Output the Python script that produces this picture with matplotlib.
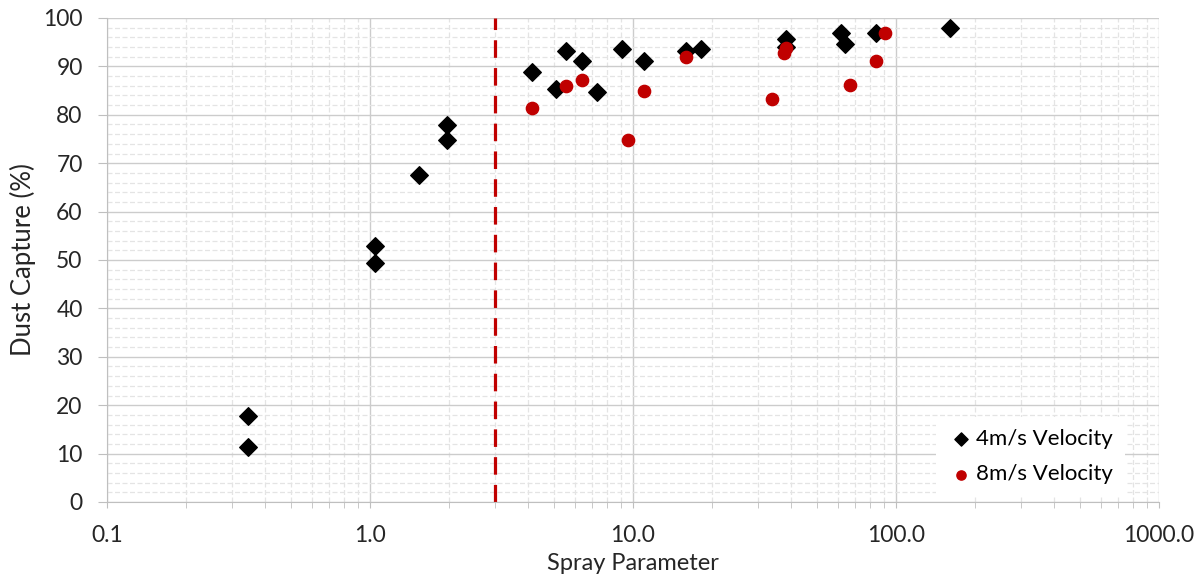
import numpy as np
import matplotlib.pyplot as plt
from matplotlib.ticker import FixedLocator, LogLocator, MultipleLocator, FuncFormatter

plt.rcParams['font.family'] = ['Lato', 'DejaVu Sans']

# 4 m/s velocity series
spray_4 = [0.344, 0.344, 1.045, 1.045, 1.53, 1.96, 1.96, 4.13, 5.09, 5.56, 6.4, 7.3,
           9.08, 11.0, 15.9, 18.1, 38.2, 38.2, 61.8, 64.0, 84.0, 160.0]
capture_4 = [17.8, 11.4, 52.9, 49.4, 67.6, 77.9, 74.8, 88.8, 85.3, 93.2, 91.1, 84.7,
             93.6, 91.1, 93.2, 93.6, 95.6, 94.0, 96.9, 94.6, 96.9, 98.0]

# 8 m/s velocity series
spray_8 = [4.13, 5.56, 6.4, 9.57, 11.0, 15.9, 33.7, 37.5, 38.2, 66.8, 84.0, 90.8]
capture_8 = [81.4, 86.0, 87.1, 74.8, 85.0, 91.9, 83.3, 92.8, 93.7, 86.1, 91.1, 97.0]

threshold = 3.0
x_ticks = [0.1, 1.0, 10.0, 100.0, 1000.0]

fig = plt.figure(figsize=(12.03, 5.8), dpi=100)
ax = fig.add_axes([0.0889, 0.1345, 0.8745, 0.8345])

ax.set_xscale('log')
ax.set_xlim(0.1, 1000)
ax.set_ylim(0, 100)

ax.xaxis.set_major_locator(FixedLocator(x_ticks))
ax.xaxis.set_minor_locator(LogLocator(base=10, subs=np.arange(2, 10)))
ax.xaxis.set_major_formatter(FuncFormatter(lambda v, p: f"{v:.1f}"))
ax.xaxis.set_minor_formatter(FuncFormatter(lambda v, p: ""))
ax.yaxis.set_major_locator(MultipleLocator(10))
ax.yaxis.set_minor_locator(MultipleLocator(2))

ax.grid(which='major', color='#cccccc', linewidth=1.0, linestyle='-')
ax.grid(which='minor', color='#e4e4e4', linewidth=0.9, linestyle=(0, (4, 2)))
ax.set_axisbelow(True)

for side in ['top', 'right']:
    ax.spines[side].set_visible(False)
for side in ['left', 'bottom']:
    ax.spines[side].set_color('#bfbfbf')

ax.tick_params(axis='both', which='major', color='#bfbfbf',
               labelsize=16.5, labelcolor='#262626')
ax.tick_params(axis='x', which='both', length=4.5, color='#bfbfbf', pad=12)
ax.tick_params(axis='y', which='major', length=6.5, pad=11)
ax.tick_params(axis='y', which='minor', length=0)

ax.axvline(threshold, color='#c00000', linewidth=2.3, linestyle=(0, (5.5, 3.2)), zorder=2)

ax.scatter(spray_4, capture_4, marker='D', s=80, color='black', zorder=3, label='4m/s Velocity')
ax.scatter(spray_8, capture_8, marker='o', s=78, color='#c00000', zorder=3, label='8m/s Velocity')

ax.set_xlabel('Spray Parameter', fontsize=17, color='#262626')
ax.set_ylabel('Dust Capture (%)', fontsize=18.5, color='#262626')
ax.xaxis.set_label_coords(0.5, -0.105)
ax.yaxis.set_label_coords(-0.067, 0.5)

leg = ax.legend(loc='lower right', bbox_to_anchor=(0.978, -0.012), fontsize=16,
                frameon=True, framealpha=1, edgecolor='white', fancybox=False,
                handletextpad=0.05, labelspacing=0.7, markerscale=0.75,
                borderpad=0.55, handlelength=1.2)
leg.get_frame().set_linewidth(0)

fig.savefig('out.png', dpi=100)
